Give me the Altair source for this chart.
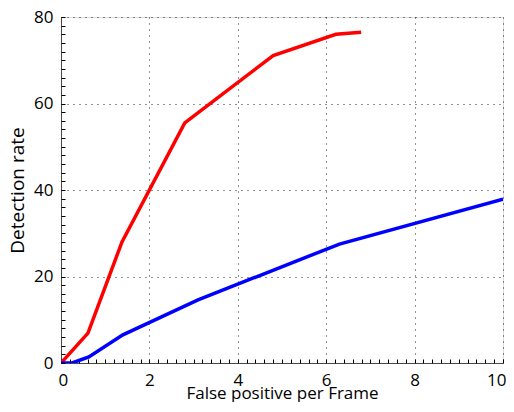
import altair as alt
import pandas as pd

red_x = [0, 0.61, 1.38, 2.8, 4.8, 6.22, 6.79]
red_y = [0, 6.9, 28, 55.5, 71.1, 76, 76.5]
blue_x = [0, 0.25, 0.63, 1.4, 3.1, 6.3, 10]
blue_y = [0, 0, 1.4, 6.5, 14.6, 27.5, 37.9]

x_ticks = [round(i * 0.2, 1) for i in range(0, 51)]
y_ticks = [i * 2 for i in range(0, 41)]

rows = []
for i, (a, b) in enumerate(zip(red_x, red_y)):
    rows.append({"x": a, "y": b, "s": "red", "i": i})
for i, (a, b) in enumerate(zip(blue_x, blue_y)):
    rows.append({"x": a, "y": b, "s": "blue", "i": i})
df = pd.DataFrame(rows)

FONT = "Open Sans"
x_major = "abs(datum.value - round(datum.value / 2) * 2) < 1e-6"
y_major = "datum.value % 20 === 0"

x_axis = alt.Axis(
    values=x_ticks,
    title="False positive per Frame",
    labelExpr=x_major + " ? format(datum.value, 'd') : ''",
    labelFont=FONT, labelFontSize=17, titleFont=FONT, titleFontSize=17,
    titleFontWeight="normal", labelColor="black", titleColor="black",
    offset=-4, tickSize=4, tickColor="black", labelPadding=9,
    labelFlush=True, labelFlushOffset=3, labelOverlap=False,
    titleBaseline="alphabetic", titleY=39,
    domain=False, grid=True, gridColor="black",
    gridDash={"condition": {"test": "datum.value === 0", "value": [1, 0]}, "value": [1, 5]},
    gridOpacity={"condition": {"test": x_major, "value": 0.85}, "value": 0},
)
y_axis = alt.Axis(
    values=y_ticks,
    title="Detection rate",
    labelExpr=y_major + " ? format(datum.value, 'd') : ''",
    labelFont=FONT, labelFontSize=17, titleFont=FONT, titleFontSize=19,
    titleFontWeight="normal", labelColor="black", titleColor="black",
    offset=-4, tickSize=4, tickColor="black", labelPadding=8,
    labelFlush=False, labelOverlap=False, titlePadding=6,
    domain=False, grid=True, gridColor="black",
    gridDash={"condition": {"test": "datum.value === 0", "value": [1, 0]}, "value": [1, 5]},
    gridOpacity={"condition": {"test": y_major, "value": 0.85}, "value": 0},
)

chart = alt.Chart(df).mark_line(strokeWidth=3.5, clip=True).encode(
    x=alt.X("x:Q", scale=alt.Scale(domain=[0, 10], nice=False, zero=False), axis=x_axis),
    y=alt.Y("y:Q", scale=alt.Scale(domain=[0, 80], nice=False, zero=False), axis=y_axis),
    color=alt.Color("s:N", scale=alt.Scale(domain=["red", "blue"], range=["#ff0000", "#0000ff"]), legend=None),
    order="i:Q",
).properties(
    width=442, height=346,
    autosize=alt.AutoSizeParams(type="none"),
    padding={"left": 53, "top": 9, "right": 3, "bottom": 39},
).configure_view(stroke=None).configure(background="white")

chart.save("out.html", embed_options={"renderer": "svg", "actions": False})
